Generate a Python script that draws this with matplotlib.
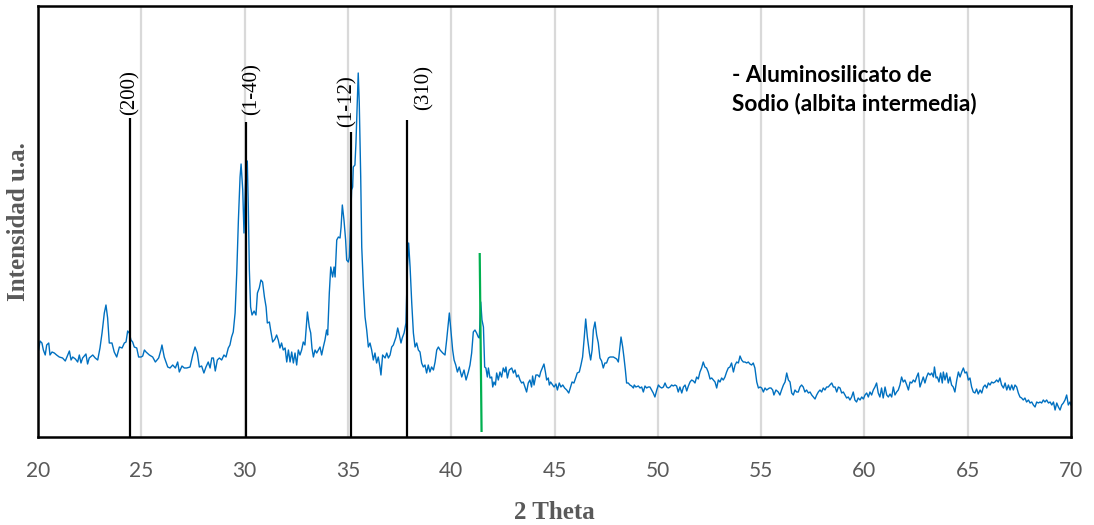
import numpy as np
import matplotlib
matplotlib.use("Agg")
import matplotlib.pyplot as plt

# ---- diffractogram (2θ in degrees, intensity in arbitrary units) ----
two_theta_a = [20.03, 20.10, 20.19, 20.26, 20.35, 20.42, 20.52, 20.58, 20.68, 20.79, 20.90, 21.03, 21.19, 21.32,
               21.44, 21.52, 21.60, 21.68, 21.81, 21.92, 22.00, 22.08, 22.16, 22.32, 22.40, 22.48, 22.65, 22.77,
               22.89, 23.00, 23.10, 23.21, 23.29, 23.37, 23.45, 23.58, 23.69, 23.81, 23.94, 24.07, 24.18, 24.26,
               24.34, 24.42, 24.50, 24.58, 24.66, 24.78, 24.87, 24.99, 25.07, 25.15, 25.23, 25.39, 25.55, 25.68,
               25.84, 25.95, 26.00, 26.11, 26.28, 26.39, 26.52, 26.65, 26.76, 26.84, 26.97, 27.08]
intensity_a = [87, 96, 94, 87, 82, 92, 94, 82, 85, 84, 82, 80, 79, 76, 82, 86, 77, 80, 78, 75,
               82, 74, 79, 83, 73, 79, 82, 79, 77, 89, 104, 124, 132, 119, 94, 94, 85, 80, 90, 89,
               94, 95, 106, 104, 97, 95, 90, 89, 80, 80, 81, 87, 85, 82, 80, 75, 79, 87, 92, 80,
               70, 69, 72, 69, 75, 65, 71, 69]

two_theta_b = [27.20, 27.36, 27.49, 27.60, 27.71, 27.81, 27.92, 28.03, 28.13, 28.24, 28.33, 28.41, 28.49, 28.58,
               28.68, 28.78, 28.89, 29.00, 29.10, 29.21, 29.29, 29.37, 29.45, 29.54, 29.62, 29.70, 29.78, 29.83,
               29.91, 29.97, 30.05, 30.13, 30.18, 30.23, 30.29, 30.36, 30.46, 30.55, 30.62, 30.71, 30.79, 30.87,
               30.96, 31.04, 31.10, 31.20, 31.26, 31.36, 31.47, 31.55, 31.63, 31.71, 31.79, 31.87, 31.96, 32.04,
               32.12, 32.20, 32.28, 32.36, 32.44, 32.52, 32.60, 32.68, 32.76, 32.84, 32.92, 33.04, 33.13, 33.20,
               33.26, 33.33, 33.41, 33.49, 33.57, 33.65, 33.73, 33.81, 33.89, 33.97, 34.02]
intensity_b = [69, 70, 82, 90, 84, 70, 71, 64, 70, 75, 69, 79, 79, 66, 77, 79, 77, 82, 80, 89,
               92, 100, 105, 124, 164, 217, 260, 273, 247, 204, 257, 276, 230, 167, 130, 122, 126, 122, 144, 149,
               157, 155, 140, 130, 114, 115, 107, 95, 98, 102, 97, 89, 94, 87, 89, 75, 87, 75, 85, 74,
               84, 72, 87, 82, 87, 95, 92, 125, 110, 104, 89, 80, 87, 84, 87, 90, 82, 90, 97, 107, 102]

two_theta_c = [34.10, 34.17, 34.26, 34.33, 34.38, 34.46, 34.54, 34.62, 34.67, 34.73, 34.81, 34.89, 34.94, 35.02,
               35.07, 35.13, 35.18, 35.23, 35.26, 35.34, 35.39, 35.46, 35.50, 35.55, 35.62, 35.67, 35.75, 35.83,
               35.91, 35.99, 36.07, 36.15, 36.23, 36.31, 36.39, 36.47, 36.55, 36.60, 36.68, 36.80, 36.88, 36.96,
               37.04, 37.12, 37.20, 37.33, 37.41, 37.49, 37.57, 37.63, 37.72, 37.81, 37.88, 37.94, 38.01, 38.09,
               38.17, 38.25, 38.33, 38.41, 38.49, 38.57, 38.65, 38.73, 38.81, 38.89, 38.97, 39.05, 39.14, 39.22,
               39.30, 39.38, 39.46, 39.59, 39.70, 39.78, 39.86, 39.91, 39.97, 40.07, 40.14, 40.22, 40.30, 40.39,
               40.51, 40.62, 40.72, 40.83]
intensity_c = [144, 170, 160, 170, 160, 197, 200, 199, 210, 232, 217, 197, 177, 175, 180, 217, 247, 250, 270, 272,
               294, 337, 364, 334, 260, 190, 150, 120, 107, 90, 94, 87, 77, 84, 74, 80, 70, 62, 82, 79,
               84, 79, 82, 90, 92, 100, 109, 102, 94, 99, 104, 114, 170, 194, 170, 134, 104, 90, 94, 87,
               85, 74, 70, 72, 64, 72, 65, 70, 67, 75, 87, 90, 87, 84, 82, 97, 114, 124, 110, 87,
               77, 72, 65, 70, 60, 67, 57, 65]

two_theta_d = [40.91, 40.99, 41.07, 41.15, 41.23, 41.31, 41.36, 41.43, 41.49, 41.56, 41.62, 41.68, 41.75, 41.80,
               41.88, 41.96, 42.01, 42.07, 42.14, 42.20, 42.28, 42.36, 42.44, 42.52, 42.60, 42.65, 42.72, 42.81,
               42.93, 43.01, 43.09, 43.17, 43.25, 43.33, 43.41, 43.49, 43.57, 43.65, 43.73, 43.81, 43.89, 43.94,
               44.01, 44.10, 44.19, 44.27, 44.33, 44.41, 44.49, 44.56, 44.62, 44.70, 44.75, 44.81, 44.91, 44.98,
               45.07, 45.14, 45.23, 45.31, 45.40, 45.49, 45.59, 45.69, 45.78, 45.85, 45.94, 46.04, 46.10, 46.20,
               46.28, 46.36, 46.43, 46.51, 46.59, 46.69, 46.75, 46.82, 46.88, 46.96, 47.04, 47.12, 47.20, 47.28,
               47.36, 47.44, 47.52, 47.61, 47.69]
intensity_d = [72, 84, 105, 107, 104, 100, 99, 135, 117, 110, 70, 69, 60, 69, 59, 60, 50, 55, 52, 64,
               57, 65, 60, 69, 65, 70, 59, 67, 69, 64, 67, 60, 62, 57, 54, 55, 50, 45, 54, 57,
               50, 61, 52, 62, 62, 60, 65, 69, 73, 65, 57, 59, 52, 55, 52, 50, 53, 47, 54, 50,
               52, 49, 47, 44, 50, 55, 54, 60, 64, 65, 72, 80, 97, 118, 100, 84, 77, 87, 107, 115,
               102, 94, 79, 76, 69, 74, 74, 79, 80]

two_theta_e = [47.85, 48.01, 48.09, 48.17, 48.22, 48.30, 48.36, 48.43, 48.49, 48.57, 48.65, 48.73, 48.82, 48.86,
               48.94, 49.06, 49.14, 49.22, 49.30, 49.38, 49.46, 49.54, 49.62, 49.70, 49.78, 49.86, 49.95, 50.03,
               50.11, 50.19, 50.27, 50.35, 50.43, 50.51, 50.59, 50.67, 50.75, 50.83, 50.91, 50.99, 51.07, 51.16,
               51.24, 51.32, 51.40, 51.48, 51.56, 51.64, 51.72, 51.80, 51.88, 51.96, 52.04, 52.12, 52.20, 52.28,
               52.36, 52.44, 52.53, 52.61, 52.69, 52.77, 52.85, 52.93, 53.01, 53.09, 53.17, 53.25, 53.33, 53.41,
               53.49, 53.57, 53.66, 53.74, 53.82, 53.90, 53.98, 54.06, 54.14, 54.22, 54.30, 54.38, 54.46, 54.54,
               54.62, 54.70, 54.79, 54.87, 54.95, 55.03, 55.11, 55.19, 55.27, 55.40]
intensity_e = [80, 78, 75, 90, 100, 90, 80, 67, 54, 54, 52, 51, 49, 52, 50, 51, 49, 50, 45, 51,
               49, 50, 50, 47, 44, 40, 47, 52, 50, 49, 50, 54, 50, 49, 50, 52, 51, 52, 51, 45,
               50, 44, 50, 52, 46, 51, 55, 57, 56, 54, 60, 58, 65, 69, 75, 70, 69, 65, 58, 59,
               57, 55, 49, 57, 55, 59, 57, 60, 65, 69, 70, 74, 65, 72, 75, 74, 81, 77, 75, 75,
               74, 75, 73, 72, 74, 69, 55, 49, 50, 49, 45, 49, 47, 49]

two_theta_f = [55.48, 55.56, 55.62, 55.72, 55.83, 55.91, 55.99, 56.08, 56.16, 56.24, 56.32, 56.40, 56.48, 56.56,
               56.64, 56.72, 56.80, 56.88, 56.96, 57.04, 57.12, 57.20, 57.29, 57.37, 57.45, 57.53, 57.61, 57.69,
               57.77, 57.85, 57.93, 58.01, 58.09, 58.17, 58.25, 58.33, 58.42, 58.50, 58.58, 58.66, 58.74, 58.82,
               58.90, 58.98, 59.06, 59.14, 59.22, 59.30, 59.38, 59.46, 59.54, 59.62, 59.70, 59.79, 59.87, 59.95,
               60.03, 60.11, 60.19, 60.27, 60.35, 60.43, 60.51, 60.59, 60.67, 60.75, 60.83, 60.91, 61.00, 61.08,
               61.16, 61.24, 61.32, 61.40, 61.48, 61.56, 61.64, 61.72, 61.80, 61.88, 61.96, 62.05, 62.13, 62.21]
intensity_f = [49, 47, 42, 47, 45, 42, 47, 52, 55, 64, 57, 55, 44, 42, 47, 45, 45, 50, 52, 50,
               45, 47, 44, 45, 42, 40, 38, 42, 45, 47, 45, 49, 47, 50, 50, 52, 54, 50, 50, 45,
               50, 49, 44, 45, 42, 39, 40, 37, 40, 45, 37, 35, 39, 37, 40, 38, 42, 44, 40, 45,
               42, 47, 50, 54, 44, 40, 49, 39, 50, 42, 40, 43, 40, 50, 42, 45, 47, 52, 60, 55,
               57, 52, 47, 55]

two_theta_g = [62.29, 62.37, 62.45, 62.53, 62.61, 62.69, 62.77, 62.85, 62.93, 63.01, 63.09, 63.18, 63.26, 63.34,
               63.39, 63.47, 63.53, 63.61, 63.69, 63.77, 63.82, 63.90, 63.98, 64.06, 64.14, 64.22, 64.30, 64.38,
               64.47, 64.55, 64.63, 64.71, 64.79, 64.87, 64.95, 65.03, 65.11, 65.19, 65.27, 65.35, 65.43, 65.51,
               65.60, 65.68, 65.76, 65.84, 65.92, 66.00, 66.08, 66.16, 66.24, 66.32, 66.40, 66.48, 66.56, 66.64,
               66.73, 66.81, 66.89, 66.97, 67.05, 67.13, 67.21, 67.29, 67.37, 67.45, 67.53, 67.61, 67.69, 67.77,
               67.85, 67.94, 68.02, 68.10, 68.18, 68.26, 68.34, 68.42, 68.50, 68.58, 68.66, 68.74, 68.82, 68.91,
               68.99, 69.07, 69.15, 69.23, 69.31, 69.39, 69.47, 69.55, 69.63, 69.71, 69.79, 69.87, 69.95, 70.00]
intensity_g = [54, 57, 55, 60, 64, 50, 55, 60, 54, 60, 64, 62, 64, 60, 70, 59, 60, 55, 64, 54,
               65, 57, 64, 54, 60, 52, 50, 45, 57, 65, 60, 65, 69, 64, 65, 57, 59, 50, 45, 44,
               48, 43, 47, 44, 50, 52, 49, 54, 52, 55, 54, 55, 57, 55, 59, 52, 49, 54, 47, 52,
               47, 52, 47, 52, 50, 44, 40, 39, 37, 39, 35, 37, 34, 35, 32, 30, 35, 34, 35, 34,
               37, 35, 37, 34, 35, 32, 35, 27, 34, 30, 27, 32, 34, 37, 42, 32, 35, 32]

two_theta = (two_theta_a + two_theta_b + two_theta_c + two_theta_d +
             two_theta_e + two_theta_f + two_theta_g)
intensity = (intensity_a + intensity_b + intensity_c + intensity_d +
             intensity_e + intensity_f + intensity_g)

# ---- reference reflections (Miller indices) ----
ref_labels = ["(200)", "(1-40)", "(1-12)", "(310)"]
ref_two_theta = [24.45, 30.05, 35.15, 37.86]
ref_height = [319, 315, 305, 317]

# extra marker line (green)
marker_two_theta = [41.38, 41.47]
marker_height = [184, 5]

x_ticks = [20, 25, 30, 35, 40, 45, 50, 55, 60, 65, 70]

# ---- figure ----
fig = plt.figure(figsize=(10.94, 5.25), dpi=100)
ax = fig.add_axes([38 / 1094, 1 - 437 / 525, (1071 - 38) / 1094, (437 - 6) / 525])

ax.set_xlim(20, 70)
ax.set_ylim(0, 431)

# vertical gridlines
for xv in x_ticks[1:-1]:
    ax.axvline(xv, color="#d9d9d9", lw=1.6, zorder=0)

ax.plot(two_theta, intensity, color="#0070C0", lw=1.0, zorder=2)

# reflection sticks with labels
label_dx = [0.0, 0.29, -0.2, 0.8]
label_y = [322, 322, 310, 327]
for lbl, xv, h, dx, ly in zip(ref_labels, ref_two_theta, ref_height, label_dx, label_y):
    ax.plot([xv, xv], [0, h], color="black", lw=1.6, zorder=3, solid_capstyle="butt")
    ax.text(xv + dx, ly, lbl, rotation=90, ha="center", va="bottom",
            fontsize=15, family="Liberation Serif", color="black")

ax.plot(marker_two_theta, marker_height, color="#00B050", lw=1.6, zorder=3, solid_capstyle="butt")

# frame
for side in ["left", "right", "top", "bottom"]:
    ax.spines[side].set_linewidth(1.8)
    ax.spines[side].set_color("black")

ax.set_xticks(x_ticks)
ax.set_xticklabels([str(t) for t in x_ticks], family="Lato", fontsize=15, color="#595959")
ax.tick_params(axis="x", length=0, pad=17)
ax.set_yticks([])

ax.set_xlabel("2 Theta", family="Liberation Serif", fontweight="bold", fontsize=18,
              color="#595959", labelpad=15)
ax.set_ylabel("Intensidad u.a.", family="Liberation Serif", fontweight="bold", fontsize=18,
              color="#595959", labelpad=6)

legend_lines = ["- Aluminosilicato de", "Sodio (albita intermedia)"]
for i, line in enumerate(legend_lines):
    fig.text(732 / 1094, 1 - (76 + 28 * i) / 525, line, ha="left", va="center",
             family="Lato", fontweight="bold", fontsize=16.3, color="black")

fig.savefig("out.png", dpi=100)
